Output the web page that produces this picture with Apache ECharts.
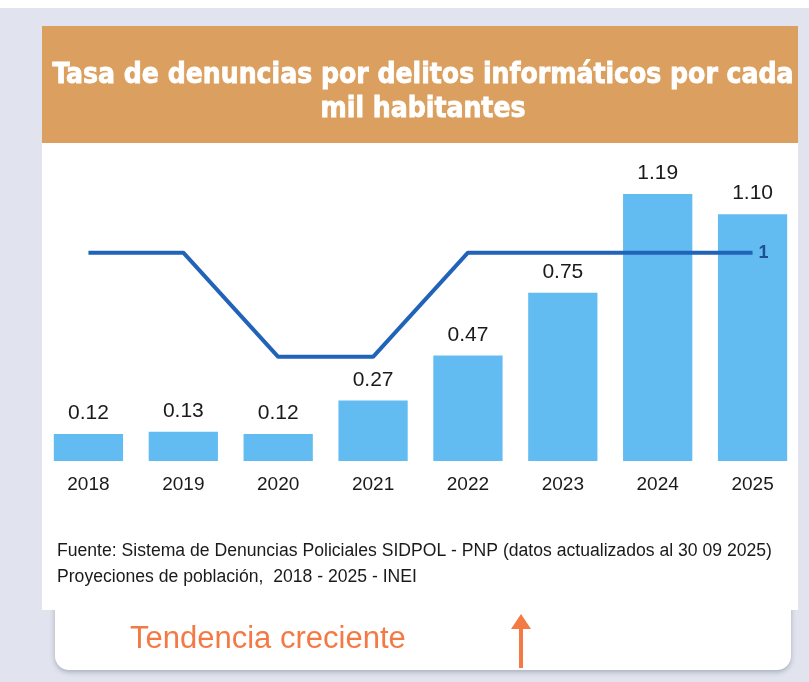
<!DOCTYPE html>
<html>
<head>
<meta charset="utf-8">
<script src="https://cdn.jsdelivr.net/npm/echarts@6/dist/echarts.min.js"></script>
<style>
  html, body { margin: 0; padding: 0; background: #ffffff; }
  #chart { width: 809px; height: 682px; }
</style>
</head>
<body>
<div id="chart"></div>
<script>
// Years on the category axis
const years = ['2018', '2019', '2020', '2021', '2022', '2023', '2024', '2025'];
// Complaints per thousand inhabitants
const rates = [0.12, 0.13, 0.12, 0.27, 0.47, 0.75, 1.19, 1.10];
// Position line (secondary, inverted scale)
const rankLine = [1, 1, 2, 2, 1, 1, 1, 1];

const titleText = 'Tasa de denuncias por delitos informáticos por cada\nmil habitantes';
const sourceLines = [
  'Fuente: Sistema de Denuncias Policiales SIDPOL - PNP (datos actualizados al 30 09 2025)',
  'Proyeciones de población,  2018 - 2025 - INEI'
];
const trendText = 'Tendencia creciente';

const chart = echarts.init(document.getElementById('chart'), null, { renderer: 'canvas' });

const option = {
  animation: false,
  backgroundColor: '#ffffff',
  title: {
    text: titleText,
    top: 54,
    left: 418,
    textAlign: 'center',
    textStyle: {
      color: '#ffffff',
      fontFamily: 'DejaVu Sans Condensed',
      fontWeight: 'bold',
      fontSize: 28,
      lineHeight: 34,
      textBorderColor: '#ffffff',
      textBorderWidth: 0.8
    }
  },
  graphic: [
    // outer frame
    { type: 'rect', z: -10, shape: { x: 0, y: 8, width: 809, height: 674 }, style: { fill: '#e1e4ee' } },
    // white card
    { type: 'rect', z: -9, shape: { x: 42, y: 26, width: 756, height: 584 }, style: { fill: '#ffffff' } },
    // title band
    { type: 'rect', z: -8, shape: { x: 42, y: 26, width: 756, height: 117 }, style: { fill: '#dba05f' } },
    // bottom note box
    { type: 'rect', z: -9, shape: { x: 55, y: 600, width: 736, height: 70, r: [0, 0, 14, 14] },
      style: { fill: '#ffffff', shadowColor: 'rgba(60,70,90,0.35)', shadowBlur: 5, shadowOffsetY: 2 } },
    { type: 'rect', z: -8, shape: { x: 42, y: 540, width: 756, height: 70 }, style: { fill: '#ffffff' } },
    // source text
    { type: 'text', x: 57, y: 542, style: { text: sourceLines[0], fill: '#1a1a1a', font: '17.6px "Liberation Sans"' } },
    { type: 'text', x: 57, y: 568, style: { text: sourceLines[1], fill: '#1a1a1a', font: '17.6px "Liberation Sans"' } },
    // trend note
    { type: 'text', x: 130, y: 624, style: { text: trendText, fill: '#f47a45', font: '31px "Liberation Sans"' } },
    { type: 'line', shape: { x1: 521, y1: 625, x2: 521, y2: 668 }, style: { stroke: '#f47a45', lineWidth: 4 } },
    { type: 'polygon', shape: { points: [[511, 629], [531, 629], [521, 614]] }, style: { fill: '#f47a45' } }
  ],
  grid: { left: 41, right: 9, top: 169.3, bottom: 221, containLabel: false },
  xAxis: {
    type: 'category',
    data: years,
    axisLine: { show: false },
    axisTick: { show: false },
    axisLabel: {
      color: '#1a1a1a',
      fontFamily: 'Liberation Sans',
      fontSize: 19,
      margin: 14
    }
  },
  yAxis: [
    { type: 'value', min: 0, max: 1.3, show: false, splitLine: { show: false } },
    { type: 'value', min: 0.2, max: 3.0, inverse: true, show: false, splitLine: { show: false } }
  ],
  series: [
    {
      type: 'bar',
      data: rates,
      barWidth: '73%',
      itemStyle: { color: '#62bcf1' },
      label: {
        show: true,
        position: 'top',
        distance: 10,
        color: '#1a1a1a',
        fontFamily: 'Liberation Sans',
        fontSize: 21,
        formatter: p => p.value.toFixed(2)
      }
    },
    {
      type: 'line',
      yAxisIndex: 1,
      data: rankLine,
      symbol: 'none',
      lineStyle: { color: '#2163b9', width: 4 },
      endLabel: {
        show: true,
        formatter: p => String(p.value),
        color: '#1f4f8f',
        fontFamily: 'Liberation Sans',
        fontWeight: 'bold',
        fontSize: 18,
        distance: 6
      },
      z: 3
    }
  ]
};

chart.setOption(option);
</script>
</body>
</html>
